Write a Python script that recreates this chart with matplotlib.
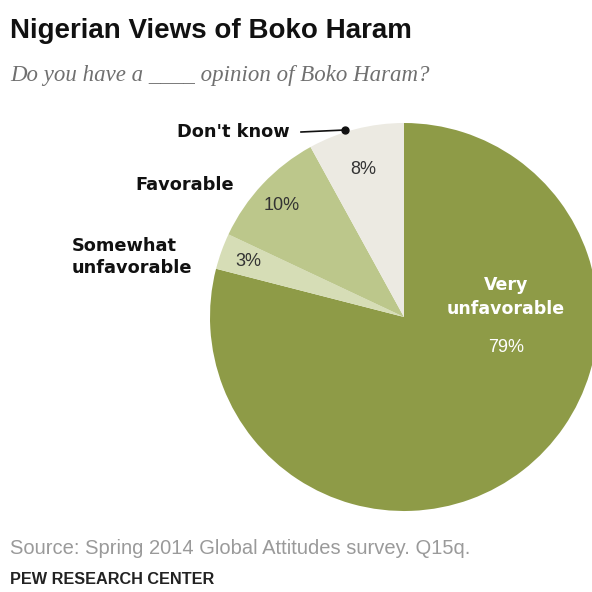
import matplotlib
matplotlib.use("Agg")
import matplotlib.pyplot as plt

# data
categories = ["Very\nunfavorable", "Somewhat\nunfavorable", "Favorable", "Don't know"]
values = [79, 3, 10, 8]
colors = ["#8E9B47", "#D6DDB6", "#BCC78B", "#ECEAE2"]

title = "Nigerian Views of Boko Haram"
subtitle = "Do you have a ____ opinion of Boko Haram?"
source = "Source: Spring 2014 Global Attitudes survey. Q15q."
credit = "PEW RESEARCH CENTER"

W = H = 592
fig = plt.figure(figsize=(W / 100, H / 100), dpi=100)
ax = fig.add_axes([0, 0, 1, 1])

sans = ["Liberation Sans", "DejaVu Sans"]
bold_lbl = ["DejaVu Sans"]

def Y(y):
    # convert from top-based pixel coordinate
    return H - y

ax.pie(values, colors=colors, startangle=90, counterclock=False,
       center=(404, Y(317)), radius=194, frame=True,
       wedgeprops=dict(linewidth=0))
ax.set_xlim(0, W)
ax.set_ylim(0, H)
ax.set_aspect("equal")
ax.axis("off")

ax.text(10, Y(31), title, fontsize=20, fontweight="bold", family=sans,
        va="center", ha="left", color="#111111")
ax.text(10, Y(76), subtitle, fontsize=16.5, style="italic",
        family=["Liberation Serif", "DejaVu Serif"], va="center", ha="left",
        color="#707070")

# category labels
ax.text(506, Y(297), categories[0], fontsize=12.5, fontweight="bold",
        family=bold_lbl, color="white", ha="center", va="center", linespacing=1.45)
ax.text(506, Y(348), f"{values[0]}%", fontsize=13, family=sans,
        color="white", ha="center", va="center")

ax.text(72, Y(257), categories[1], fontsize=12.8, fontweight="bold",
        family=bold_lbl, color="#111111", ha="left", va="center", linespacing=1.3)
ax.text(248, Y(262), f"{values[1]}%", fontsize=13, family=sans,
        color="#333333", ha="center", va="center")

ax.text(135, Y(185), categories[2], fontsize=12.8, fontweight="bold",
        family=bold_lbl, color="#111111", ha="left", va="center")
ax.text(282, Y(205), f"{values[2]}%", fontsize=13, family=sans,
        color="#333333", ha="center", va="center")

ax.text(177, Y(132), categories[3], fontsize=12.8, fontweight="bold",
        family=bold_lbl, color="#111111", ha="left", va="center")
ax.plot([301, 345], [Y(132), Y(130)], color="#111111", lw=1.2)
ax.plot([345], [Y(130)], marker="o", ms=5, color="#111111")
ax.text(363, Y(170), f"{values[3]}%", fontsize=13, family=sans,
        color="#333333", ha="center", va="center")

ax.text(10, Y(549), source, fontsize=14.5, family=sans, color="#9A9A9A",
        ha="left", va="center")
ax.text(10, Y(580), credit, fontsize=11.7, fontweight="bold", family=sans,
        color="#222222", ha="left", va="center")

fig.savefig("out.png", dpi=100, facecolor="white")
